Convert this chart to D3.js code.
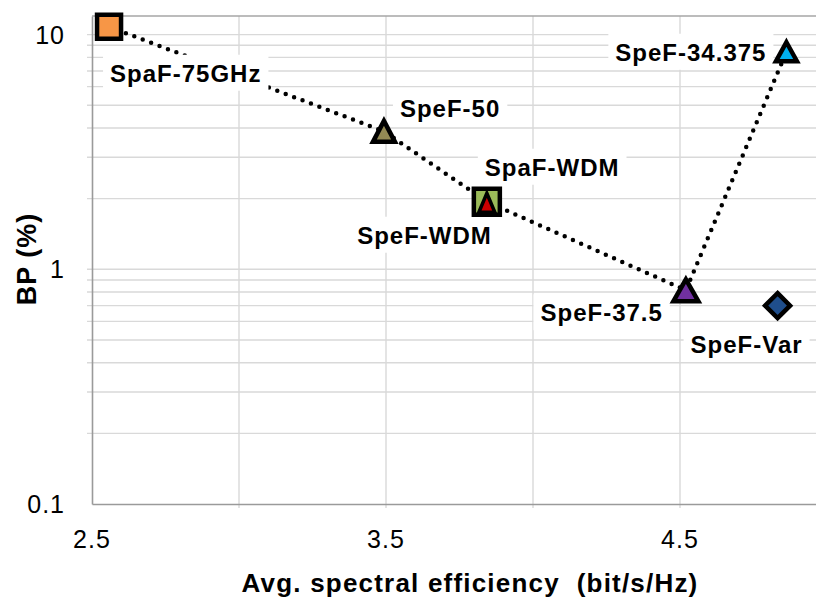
<!DOCTYPE html>
<html>
<head>
<meta charset="utf-8">
<script src="https://cdn.jsdelivr.net/npm/d3@7"></script>
<style>
  body { margin: 0; background: #fff; }
  svg { display: block; font-family: "Liberation Sans", Arial, sans-serif; }
</style>
</head>
<body>
<div id="chart"></div>
<script>
// data
const names = ['SpaF-75GHz', 'SpeF-50', 'SpaF-WDM', 'SpeF-WDM', 'SpeF-37.5', 'SpeF-34.375', 'SpeF-Var'];
const efficiency = [2.558, 3.493, 3.843, 3.843, 4.52, 4.862, 4.832];
const blocking = [10.8, 3.87, 1.94, 1.94, 0.814, 8.45, 0.70];
const shapes = ['square', 'triangle', 'square', 'triangle', 'triangle', 'triangle', 'diamond'];
const fills = ['#F79646', '#948A54', '#9BBB59', '#CC0000', '#7030A0', '#00B0F0', '#1F4E8C'];
// dotted trend through these points, in order
const trendNames = ['SpaF-75GHz', 'SpeF-50', 'SpaF-WDM', 'SpeF-37.5', 'SpeF-34.375'];
const xTickLabels = [2.5, 3.5, 4.5];
const xGridValues = [3.0, 3.5, 4.0, 4.5];
const yTickLabels = [0.1, 1, 10];

const width = 816, height = 601;
const margin = { top: 16, left: 92, bottom: 97 };

const svg = d3.select('#chart').append('svg')
    .attr('width', width)
    .attr('height', height);

// x axis continues to 5.0, past the right edge of the picture
const x = d3.scaleLinear().domain([2.5, 5.0]).range([margin.left, 827]);
const y = d3.scaleLog().domain([0.1, 12]).range([height - margin.bottom, margin.top]);

const points = names.map((n, i) => ({
    name: n, x: efficiency[i], y: blocking[i], shape: shapes[i], fill: fills[i]
}));

// gridlines
const minor = [];
[0.1, 1].forEach(d => { for (let k = 1; k <= 9; k++) minor.push(d * k); });
minor.push(10);

svg.append('g').selectAll('line')
    .data(minor.filter(v => v > 0.1))
    .enter().append('line')
    .attr('x1', margin.left - 5).attr('x2', width)
    .attr('y1', d => y(d)).attr('y2', d => y(d))
    .attr('stroke', '#d9d9d9').attr('stroke-width', 1.4);

svg.append('g').selectAll('line')
    .data(xGridValues)
    .enter().append('line')
    .attr('x1', d => x(d)).attr('x2', d => x(d))
    .attr('y1', margin.top).attr('y2', y(0.1) + 4)
    .attr('stroke', '#d9d9d9').attr('stroke-width', 1.4);

// frame
svg.append('line')
    .attr('x1', margin.left).attr('x2', width)
    .attr('y1', margin.top).attr('y2', margin.top)
    .attr('stroke', '#a6a6a6').attr('stroke-width', 1.6);

// axes (domain lines only, labels added by hand below)
const xAxis = d3.axisBottom(x).tickValues(xTickLabels).tickSize(0).tickFormat('');
svg.append('g')
    .attr('transform', `translate(0, ${y(0.1)})`)
    .call(xAxis)
    .call(g => g.select('.domain').attr('stroke', '#9a9a9a').attr('stroke-width', 1.6));

const yAxis = d3.axisLeft(y).tickValues(yTickLabels).tickSize(0).tickFormat('');
svg.append('g')
    .attr('transform', `translate(${margin.left}, 0)`)
    .call(yAxis)
    .call(g => g.select('.domain').attr('stroke', '#9a9a9a').attr('stroke-width', 1.6));

// tick labels
svg.append('g').selectAll('text')
    .data(xTickLabels)
    .enter().append('text')
    .attr('x', d => x(d))
    .attr('y', 548)
    .attr('text-anchor', 'middle')
    .attr('font-size', 25)
    .attr('letter-spacing', 1)
    .attr('fill', '#000')
    .text(d => d.toFixed(1));

svg.append('g').selectAll('text')
    .data(yTickLabels)
    .enter().append('text')
    .attr('x', 65)
    .attr('y', d => y(d) + 9)
    .attr('text-anchor', 'end')
    .attr('font-size', 25)
    .attr('letter-spacing', 1)
    .attr('fill', '#000')
    .text(d => d);

// axis titles
svg.append('text')
    .attr('x', 470)
    .attr('y', 592)
    .attr('text-anchor', 'middle')
    .attr('font-size', 26)
    .attr('font-weight', 'bold')
    .attr('letter-spacing', 1.2)
    .style('white-space', 'pre')
    .text('Avg. spectral efficiency  (bit/s/Hz)');

svg.append('text')
    .attr('transform', 'translate(36, 259) rotate(-90)')
    .attr('text-anchor', 'middle')
    .attr('font-size', 27)
    .attr('font-weight', 'bold')
    .attr('letter-spacing', 1)
    .text('BP (%)');

// dotted trend line
const byName = new Map(points.map(p => [p.name, p]));
const trend = trendNames.map(n => byName.get(n));
svg.append('path')
    .datum(trend)
    .attr('d', d3.line().x(d => x(d.x)).y(d => y(d.y)))
    .attr('fill', 'none')
    .attr('stroke', '#000')
    .attr('stroke-width', 4.5)
    .attr('stroke-linecap', 'round')
    .attr('stroke-dasharray', '0 9');

// data labels with white boxes
const labelPlace = {
    'SpaF-75GHz': { dx: 1, dy: 55, anchor: 'start' },
    'SpeF-50': { dx: 16, dy: -14, anchor: 'start' },
    'SpaF-WDM': { dx: -2, dy: -26, anchor: 'start' },
    'SpeF-WDM': { dx: 5, dy: 42, anchor: 'end' },
    'SpeF-37.5': { dx: -23, dy: 31, anchor: 'end' },
    'SpeF-34.375': { dx: -20, dy: 9, anchor: 'end' },
    'SpeF-Var': { dx: -31, dy: 47, anchor: 'middle' }
};

const labels = svg.append('g');
points.forEach(p => {
    const pl = labelPlace[p.name];
    const g = labels.append('g');
    const box = g.append('rect').attr('fill', '#fff');
    const t = g.append('text')
        .attr('x', x(p.x) + pl.dx)
        .attr('y', y(p.y) + pl.dy)
        .attr('text-anchor', pl.anchor)
        .attr('font-size', 24)
        .attr('font-weight', 'bold')
        .attr('letter-spacing', 1)
        .text(p.name);
    const b = t.node().getBBox();
    box.attr('x', b.x - 7).attr('y', b.y - 5)
        .attr('width', b.width + 14).attr('height', b.height + 9);
});

// markers: half width and height of each
const markerSize = {
    'SpaF-75GHz': [12, 24], 'SpeF-50': [11, 21], 'SpaF-WDM': [13, 26], 'SpeF-WDM': [8, 19],
    'SpeF-37.5': [12.5, 22], 'SpeF-34.375': [10.5, 19], 'SpeF-Var': [12.5, 25]
};

function markerPath(shape, s) {
    const [w, h] = s;
    const p = d3.path();
    if (shape === 'square') {
        p.rect(-w, -w, 2 * w, 2 * w);
    } else if (shape === 'triangle') {
        p.moveTo(0, -h / 2); p.lineTo(w, h / 2); p.lineTo(-w, h / 2); p.closePath();
    } else {
        p.moveTo(0, -w); p.lineTo(w, 0); p.lineTo(0, w); p.lineTo(-w, 0); p.closePath();
    }
    return p.toString();
}

svg.append('g').selectAll('path')
    .data(points)
    .enter().append('path')
    .attr('transform', d => `translate(${x(d.x)}, ${y(d.y) + (d.name === 'SpeF-WDM' ? 1 : 0)})`)
    .attr('d', d => markerPath(d.shape, markerSize[d.name]))
    .attr('fill', d => d.fill)
    .attr('stroke', '#000')
    .attr('stroke-width', d => d.name === 'SpeF-WDM' ? 3.5 : 4.5)
    .attr('stroke-linejoin', 'miter');
</script>
</body>
</html>
